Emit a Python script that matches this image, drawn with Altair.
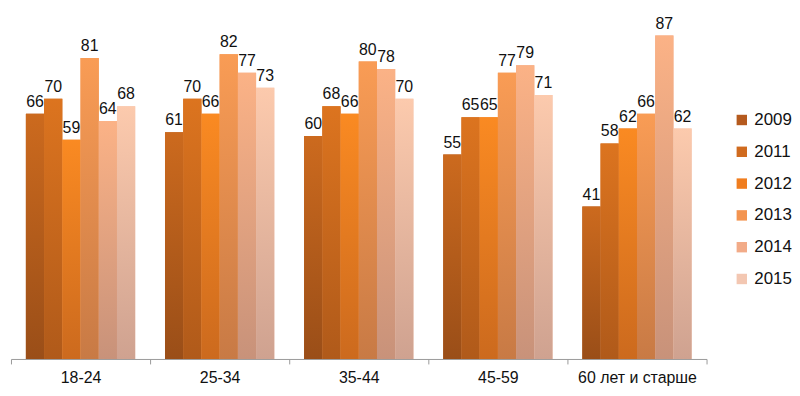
import altair as alt
import pandas as pd

groups = ["18-24", "25-34", "35-44", "45-59", "60 лет и старше"]
years = ["2009", "2011", "2012", "2013", "2014", "2015"]
values = {
    "18-24": [66, 70, 59, 81, 64, 68],
    "25-34": [61, 70, 66, 82, 77, 73],
    "35-44": [60, 68, 66, 80, 78, 70],
    "45-59": [55, 65, 65, 77, 79, 71],
    "60 лет и старше": [41, 58, 62, 66, 87, 62],
}
colors = ["#b55a1e", "#d06b1f", "#f07d1e", "#f39450", "#f2ab88", "#f3c7b2"]
tops = ["#cc6a1e", "#dc741f", "#fa8a22", "#f99c55", "#fbb286", "#fccaad"]
bottoms = ["#9a4e18", "#b05a1a", "#cc6a1e", "#c87a45", "#c8927a", "#cfa290"]

rows = []
for g in groups:
    for y, v in zip(years, values[g]):
        rows.append({"group": g, "year": y, "value": v})
df = pd.DataFrame(rows)

font = "Liberation Sans"

x = alt.X("group:N", sort=groups, title=None,
          scale=alt.Scale(domain=groups, paddingInner=0, paddingOuter=0),
          axis=alt.Axis(labelAngle=0, labelFontSize=16, labelFont=font, labelColor="#111111",
                        domainColor="#999999", tickColor="#999999", tickSize=5,
                        tickBand="extent", labelPadding=6))
xo = alt.XOffset("year:N", scale=alt.Scale(domain=years, paddingInner=0, paddingOuter=0.818))
y = alt.Y("value:Q", axis=None, scale=alt.Scale(domain=[0, 94.1], nice=False, zero=True))

bars = alt.Chart(df).mark_bar(strokeWidth=0).encode(
    x=x, xOffset=xo, y=y,
    color=alt.Color("year:N",
                    scale=alt.Scale(domain=years, range=colors),
                    legend=alt.Legend(title=None, orient="none", legendX=727, legendY=103,
                                      symbolType="square", symbolSize=110, symbolStrokeWidth=0,
                                      labelFontSize=17, labelFont=font, labelColor="#111111",
                                      rowPadding=14, padding=0, labelOffset=4))
)

layers = [bars]
for yr, t, b in zip(years, tops, bottoms):
    layers.append(
        alt.Chart(df).transform_filter(alt.datum.year == yr).mark_bar(
            strokeWidth=0,
            color=alt.Gradient(gradient="linear", x1=0, x2=0, y1=0, y2=1,
                               stops=[alt.GradientStop(color=t, offset=0),
                                      alt.GradientStop(color=b, offset=1)])
        ).encode(x=x, xOffset=xo, y=y)
    )

labels = alt.Chart(df).mark_text(baseline="bottom", dy=-4, fontSize=16, font=font, color="#111111").encode(
    x=x, xOffset=xo, y=y, text="value:Q"
)
layers.append(labels)

chart = alt.layer(*layers).properties(
    width=700, height=352,
    padding={"left": 2, "top": 0, "right": 0, "bottom": 0}
).configure_view(stroke=None)

chart.save("out.html", embed_options={"renderer": "svg", "actions": False})
